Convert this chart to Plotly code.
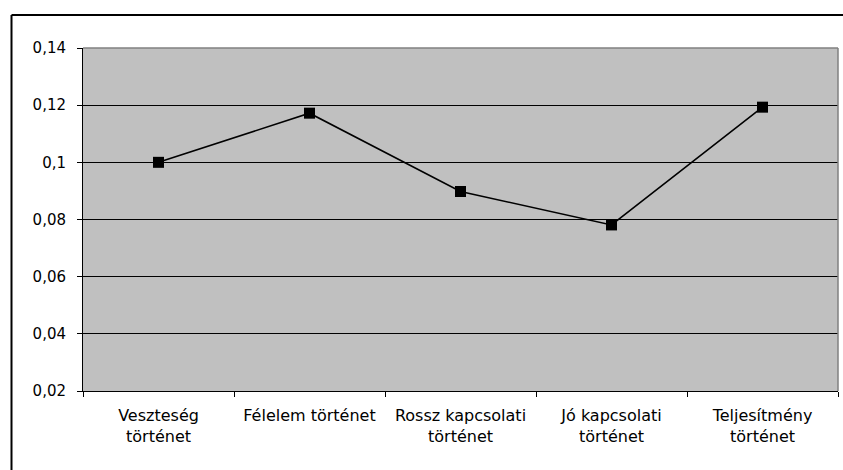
import plotly.graph_objects as go

categories = ["Veszteség<br>történet", "Félelem történet", "Rossz kapcsolati<br>történet",
              "Jó kapcsolati<br>történet", "Teljesítmény<br>történet"]
values = [0.100, 0.1172, 0.0898, 0.0781, 0.1193]
y_tickvals = [0.02, 0.04, 0.06, 0.08, 0.10, 0.12, 0.14]
y_ticktext = ["0,02", "0,04", "0,06", "0,08", "0,1", "0,12", "0,14"]

W, H = 843, 470
L, R, T, B = 83, 5, 48, 79
pw, ph = W - L - R, H - T - B

fig = go.Figure()
fig.add_trace(go.Scatter(
    x=categories, y=values, mode="lines+markers",
    line=dict(color="black", width=1.6),
    marker=dict(symbol="square", size=11, color="black"),
    showlegend=False, cliponaxis=False,
))

yfont = dict(family="DejaVu Sans, sans-serif", size=15, color="black")
xfont = dict(family="DejaVu Sans, sans-serif", size=16, color="black")

fig.update_layout(
    width=W, height=H,
    margin=dict(l=L, r=R, t=T, b=B),
    paper_bgcolor="white", plot_bgcolor="#C0C0C0",
    font=yfont,
    xaxis=dict(
        type="category", range=[-0.5, 4.5], tickson="boundaries",
        ticks="outside", ticklen=5, tickcolor="black", tickwidth=1,
        showline=True, linecolor="black", linewidth=1, showgrid=False,
        tickfont=xfont, ticklabelstandoff=10, fixedrange=True,
    ),
    yaxis=dict(
        range=[0.02, 0.14], tickvals=y_tickvals, ticktext=y_ticktext,
        ticks="outside", ticklen=5, tickcolor="black", tickwidth=1,
        showline=True, linecolor="black", linewidth=1,
        showgrid=True, gridcolor="black", gridwidth=1, zeroline=False,
        tickfont=yfont, ticklabelstandoff=8, fixedrange=True,
    ),
    shapes=[
        dict(type="line", xref="paper", yref="paper", x0=0, x1=1, y0=1, y1=1,
             line=dict(color="#808080", width=1.5)),
        dict(type="line", xref="paper", yref="paper", x0=1, x1=1, y0=0, y1=1,
             line=dict(color="#808080", width=1.5)),
        dict(type="line", xref="paper", yref="paper",
             x0=(11.5 - L) / pw, x1=(11.5 - L) / pw,
             y0=-(B + 5) / ph, y1=(H - 15 - B) / ph,
             line=dict(color="black", width=2)),
        dict(type="line", xref="paper", yref="paper",
             x0=(11.5 - L) / pw, x1=(W + 5 - L) / pw,
             y0=(H - 15 - B) / ph, y1=(H - 15 - B) / ph,
             line=dict(color="black", width=2)),
    ],
)

fig.write_html(
    "out.html",
    config={"displayModeBar": False},
    post_script="document.body.style.margin='0px';document.body.style.overflow='hidden';",
)
